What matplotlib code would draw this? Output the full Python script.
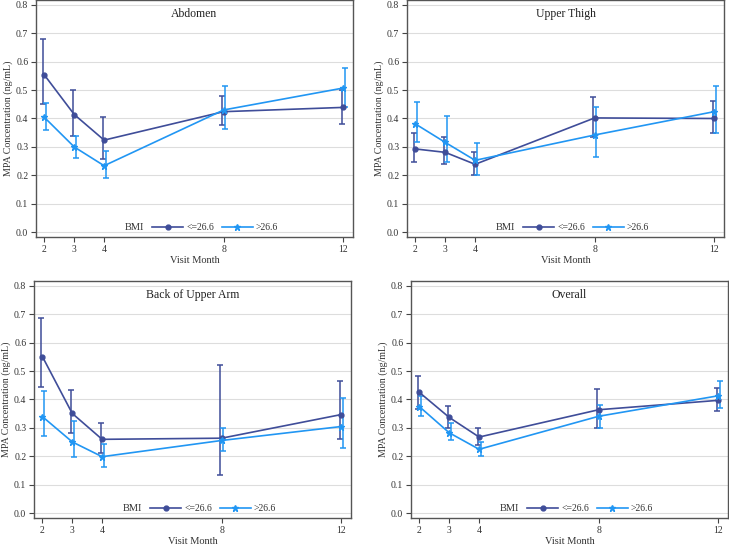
import matplotlib
matplotlib.use("Agg")
import matplotlib.pyplot as plt
import numpy as np

plt.rcParams['font.family'] = ['Liberation Serif', 'DejaVu Serif']

months = [2, 3, 4, 8, 12]
panels = ["Abdomen", "Upper Thigh", "Back of Upper Arm", "Overall"]
series_labels = ["<=26.6", ">26.6"]

# mean, lower, upper for BMI <=26.6
abd_lo = [0.553, 0.414, 0.324, 0.424, 0.439]
abd_lo_l = [0.450, 0.340, 0.259, 0.376, 0.380]
abd_lo_u = [0.681, 0.501, 0.404, 0.479, 0.500]
# BMI >26.6
abd_hi = [0.404, 0.300, 0.234, 0.430, 0.507]
abd_hi_l = [0.361, 0.262, 0.192, 0.362, 0.442]
abd_hi_u = [0.455, 0.338, 0.285, 0.513, 0.578]

thi_lo = [0.293, 0.281, 0.239, 0.402, 0.400]
thi_lo_l = [0.248, 0.239, 0.200, 0.335, 0.348]
thi_lo_u = [0.348, 0.335, 0.283, 0.477, 0.463]
thi_hi = [0.381, 0.316, 0.253, 0.342, 0.424]
thi_hi_l = [0.318, 0.246, 0.200, 0.266, 0.348]
thi_hi_u = [0.458, 0.408, 0.315, 0.439, 0.514]

arm_lo = [0.551, 0.351, 0.260, 0.264, 0.347]
arm_lo_l = [0.445, 0.283, 0.213, 0.135, 0.262]
arm_lo_u = [0.685, 0.435, 0.317, 0.521, 0.464]
arm_hi = [0.340, 0.251, 0.199, 0.256, 0.305]
arm_hi_l = [0.271, 0.197, 0.161, 0.218, 0.229]
arm_hi_u = [0.430, 0.324, 0.243, 0.300, 0.406]

ovr_lo = [0.425, 0.337, 0.268, 0.364, 0.397]
ovr_lo_l = [0.368, 0.301, 0.240, 0.301, 0.360]
ovr_lo_u = [0.482, 0.376, 0.299, 0.438, 0.439]
ovr_hi = [0.375, 0.283, 0.225, 0.341, 0.413]
ovr_hi_l = [0.342, 0.256, 0.201, 0.301, 0.369]
ovr_hi_u = [0.412, 0.317, 0.251, 0.381, 0.466]

data = [
    ((abd_lo, abd_lo_l, abd_lo_u), (abd_hi, abd_hi_l, abd_hi_u)),
    ((thi_lo, thi_lo_l, thi_lo_u), (thi_hi, thi_hi_l, thi_hi_u)),
    ((arm_lo, arm_lo_l, arm_lo_u), (arm_hi, arm_hi_l, arm_hi_u)),
    ((ovr_lo, ovr_lo_l, ovr_lo_u), (ovr_hi, ovr_hi_l, ovr_hi_u)),
]

colors = ['#3F4D99', '#2196F3']
markers = ['o', '*']
offsets = [-0.05, 0.05]

W, H = 729, 547
fig = plt.figure(figsize=(W / 100, H / 100), dpi=100)
boxes = [(36, 0), (407, 0), (34, 281), (411, 281)]
aw, ah = 317, 237

for i, (title, (left, top)) in enumerate(zip(panels, boxes)):
    ax = fig.add_axes([left / W, 1 - (top + ah) / H, aw / W, ah / H])
    x = np.array(months, dtype=float)
    handles = []
    for k in range(2):
        m, lo, hi = [np.array(v) for v in data[i][k]]
        ax.errorbar(x + offsets[k], m, yerr=[m - lo, hi - m], fmt='none',
                    ecolor=colors[k], elinewidth=1.1, capsize=2, capthick=1.1, zorder=3)
        h, = ax.plot(x, m, color=colors[k], marker=markers[k],
                     markersize=3.5 if k == 0 else 4.5, lw=1.2, zorder=4,
                     label=series_labels[k])
        handles.append(h)
    ax.set_xlim(1.72, 12.33)
    ax.set_ylim(-0.0165, 0.8165)
    ax.set_xticks(months)
    ax.set_yticks(np.arange(0, 0.81, 0.1))
    ax.set_yticklabels([f"{v:.1f}" for v in np.arange(0, 0.81, 0.1)])
    ax.yaxis.grid(True, color='#DDDDDD', lw=0.8)
    ax.set_axisbelow(True)
    ax.tick_params(labelsize=7, length=3.5, width=0.8, color='#444444',
                   labelcolor='#333333', pad=2)
    for s in ax.spines.values():
        s.set_color('#555555')
        s.set_linewidth(1.0)
    ax.set_ylabel("MPA Concentration (ng/mL)", fontsize=7.2, color='#333333', labelpad=2.5)
    ax.set_xlabel("Visit Month", fontsize=7.5, color='#333333', labelpad=1.5)
    ax.text(0.5, 0.965, title, transform=ax.transAxes, ha='center', va='top',
            fontsize=8.5, color='#222222')
    ax.text(0.31, 0.04, "BMI", transform=ax.transAxes, ha='center', va='center',
            fontsize=7.5, color='#333333')
    ax.legend(handles=handles, loc='center', bbox_to_anchor=(0.565, 0.04),
              ncol=2, frameon=False, fontsize=7, handlelength=3.2,
              handletextpad=0.3, columnspacing=0.8, borderpad=0,
              labelcolor='#333333')

fig.savefig("out.png", dpi=100)
